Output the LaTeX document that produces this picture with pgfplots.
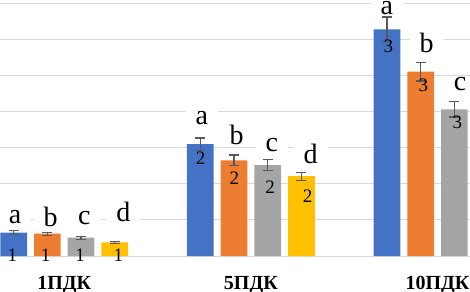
\documentclass[border=0pt]{standalone}
\usepackage{fontspec}
\setmainfont{Liberation Serif}
\usepackage{pgfplots}
\pgfplotsset{compat=1.18}
\definecolor{exblue}{HTML}{4472C4}
\definecolor{exorange}{HTML}{ED7D31}
\definecolor{exgray}{HTML}{A5A5A5}
\definecolor{exyellow}{HTML}{FFC000}
\definecolor{gridgray}{HTML}{D9D9D9}
\definecolor{errgray}{HTML}{595959}
\begin{document}
\begin{tikzpicture}[
  lett/.style={anchor=base, fill=white, inner xsep=10bp, inner ysep=1bp, font=\fontsize{28bp}{30bp}\selectfont},
  digit/.style={anchor=center, inner sep=0pt, font=\fontsize{19bp}{21bp}\selectfont},
  cat/.style={anchor=base, inner sep=0pt, font=\bfseries\fontsize{20bp}{22bp}\selectfont}
]
\begin{axis}[
  width=470bp, height=292bp, scale only axis,
  xmin=-0.344, xmax=2.174, ymin=-0.997, ymax=7.091,
  enlargelimits=false,
  ybar=7bp, bar width=26.7bp,
  axis line style={draw=none},
  xtick=\empty, ytick={0,1,...,7}, yticklabels={},
  major tick length=0pt,
  ymajorgrids, grid style={color=gridgray, line width=1bp},
  error bars/y dir=both, error bars/y explicit,
  error bars/error bar style={color=errgray, line width=1.2bp},
  error bars/error mark options={rotate=90, color=errgray, line width=1.2bp, mark size=5bp},
]
\addplot[fill=exblue, draw=none] coordinates {(0,0.645) +- (0,0.055) (1,3.10) +- (0,0.17) (2,6.28) +- (0,0.34)};
\addplot[fill=exorange, draw=none] coordinates {(0,0.618) +- (0,0.04) (1,2.65) +- (0,0.15) (2,5.11) +- (0,0.26)};
\addplot[fill=exgray, draw=none] coordinates {(0,0.507) +- (0,0.04) (1,2.52) +- (0,0.15) (2,4.06) +- (0,0.21)};
\addplot[fill=exyellow, draw=none] coordinates {(0,0.379) +- (0,0.03) (1,2.21) +- (0,0.11) (2,3.50) +- (0,0.20)};

% significance letters
\node[lett] at (axis cs:-0.2636,0.914) {a};
\node[lett] at (axis cs:-0.0723,0.817) {b};
\node[lett] at (axis cs:0.1077,0.886) {c};
\node[lett] at (axis cs:0.3166,0.942) {d};
\node[lett] at (axis cs:0.7367,3.629) {a};
\node[lett] at (axis cs:0.9242,3.075) {b};
\node[lett] at (axis cs:1.1117,2.881) {c};
\node[lett] at (axis cs:1.3207,2.576) {d};
\node[lett] at (axis cs:1.7278,6.676) {a};
\node[lett] at (axis cs:1.9422,5.623) {b};
\node[lett] at (axis cs:2.1206,4.598) {c};

% digits
\node[digit] at (axis cs:-0.2781,0.014) {1};
\node[digit] at (axis cs:-0.0991,0.014) {1};
\node[digit] at (axis cs:0.0847,0.014) {1};
\node[digit] at (axis cs:0.2898,0.014) {1};
\node[digit] at (axis cs:0.7313,2.706) {2};
\node[digit] at (axis cs:0.9113,2.152) {2};
\node[digit] at (axis cs:1.1026,1.911) {2};
\node[digit] at (axis cs:1.3046,1.648) {2};
\node[digit] at (axis cs:1.7364,5.798) {3};
\node[digit] at (axis cs:1.9239,4.723) {3};
\node[digit] at (axis cs:2.1061,3.698) {3};

% category labels
\node[cat] at (axis cs:0,-0.914) {1ПДК};
\node[cat] at (axis cs:1,-0.914) {5ПДК};
\node[cat] at (axis cs:2,-0.914) {10ПДК};
\end{axis}
\pgfresetboundingbox
\path[use as bounding box] (current axis.south west) rectangle (current axis.north east);
\end{tikzpicture}
\end{document}
